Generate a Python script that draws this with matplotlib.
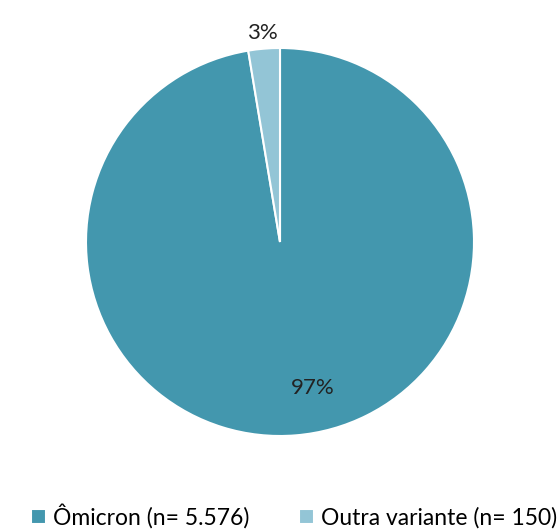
import numpy as np
import matplotlib.pyplot as plt

plt.rcParams['font.family'] = ['Lato', 'DejaVu Sans']

labels = ['Ômicron (n= 5.576)', 'Outra variante (n= 150)']
counts = [5576, 150]
colors = ['#4397AE', '#93C5D6']

fig = plt.figure(figsize=(5.6, 5.32), dpi=100)
ax = fig.add_axes([86 / 560, 96 / 532, 388 / 560, 388 / 532])

wedges, texts, pcts = ax.pie(
    counts, colors=colors, startangle=90, counterclock=False,
    autopct='%1.0f%%', pctdistance=0.77,
    wedgeprops=dict(edgecolor='white', linewidth=1.5),
    textprops=dict(fontsize=16, color='#222222'))

# small slice label sits outside the pie
w = wedges[1]
ang = np.deg2rad((w.theta1 + w.theta2) / 2)
pcts[1].set_position((1.08 * np.cos(ang), 1.08 * np.sin(ang)))
pcts[1].set_clip_on(False)

# big slice label a bit to the right of its midpoint, as in the original
w = wedges[0]
ang = np.deg2rad((w.theta1 + w.theta2) / 2 + 8)
pcts[0].set_position((0.77 * np.cos(ang), 0.77 * np.sin(ang)))

ax.set_xlim(-1, 1)
ax.set_ylim(-1, 1)
ax.set_aspect('equal')

fig.legend(wedges, labels, loc='lower center', bbox_to_anchor=(0.525, -0.032),
           ncol=2, frameon=False, fontsize=16.5, handlelength=0.65, handleheight=0.65,
           handletextpad=0.3, columnspacing=2.2)

fig.savefig('out.png', dpi=100)
